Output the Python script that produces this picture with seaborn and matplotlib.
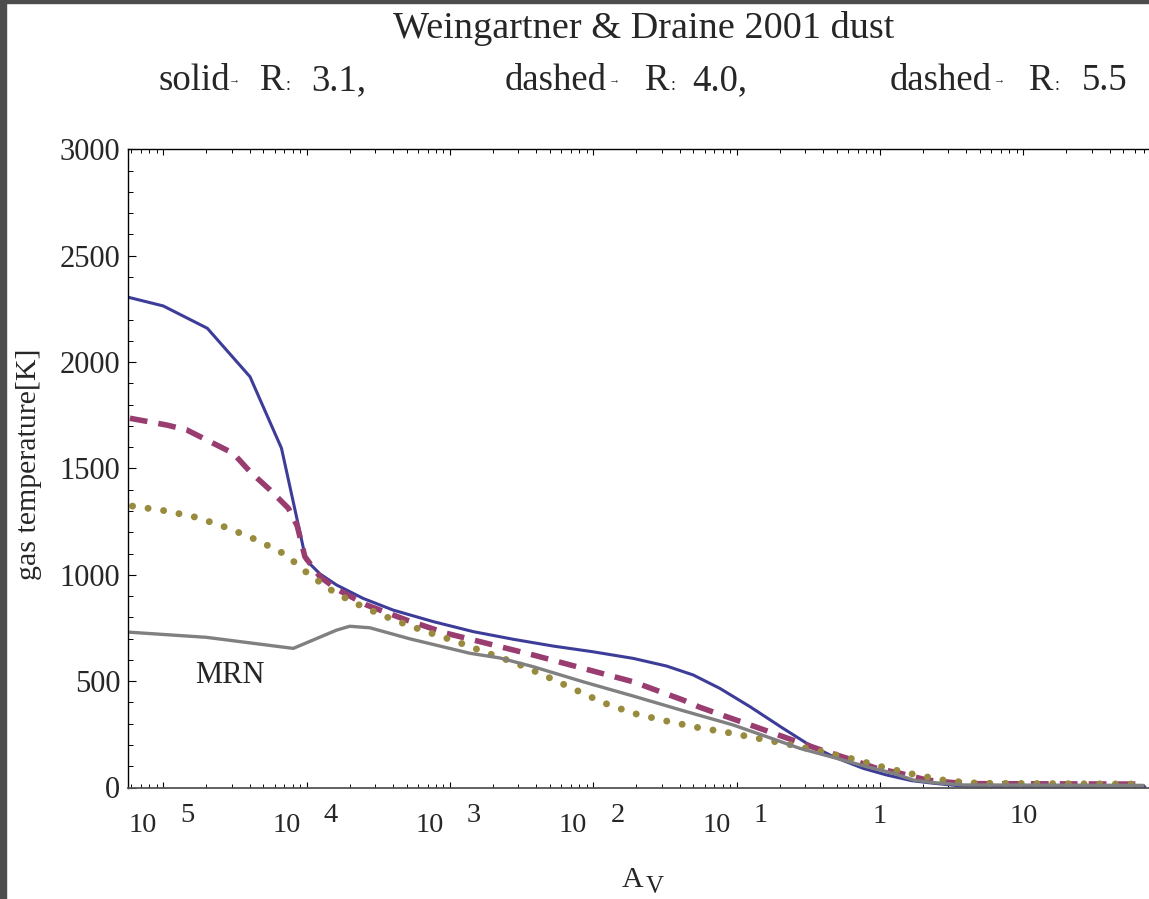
import numpy as np
import pandas as pd
import matplotlib
matplotlib.use("Agg")
import matplotlib.pyplot as plt
import matplotlib.transforms as mtransforms
from matplotlib.patches import Rectangle
from matplotlib.ticker import LogLocator, MultipleLocator, NullFormatter
import seaborn as sns

# ---------------- data ----------------
av_r31 = [5.69e-6, 1.0e-5, 2.03e-5, 4.03e-5, 6.68e-5, 9.9e-5, 1.24e-4, 1.62e-4, 2.48e-4,
          4.02e-4, 7.64e-4, 1.45e-3, 2.76e-3, 5.25e-3, 9.98e-3, 0.0190, 0.0325, 0.0498,
          0.0764, 0.124, 0.211, 0.308, 0.472, 0.764, 1.11, 1.67, 2.36, 3.73, 7.10, 70.6]
t_r31 = [2305, 2264, 2159, 1931, 1595, 1070, 1004, 952, 889,
         834, 780, 733, 697, 665, 638, 607, 571, 529,
         466, 380, 278, 208, 145, 90, 59, 32, 20, 7, 3, 3]

av_r40 = [5.85e-6, 1.06e-5, 1.46e-5, 2.12e-5, 3.08e-5, 4.03e-5, 5.56e-5, 7.46e-5, 8.6e-5,
          9.73e-5, 1.24e-4, 1.62e-4, 2.62e-4, 4.99e-4, 9.46e-4, 1.80e-3, 3.81e-3, 8.50e-3,
          0.019, 0.0424, 0.0555, 0.0851, 0.1306, 0.190, 0.276, 0.402, 0.618, 0.948, 1.38,
          2.12, 3.25, 4.73, 68.4]
t_r40 = [1736, 1704, 1681, 1626, 1571, 1485, 1399, 1313, 1230,
         1085, 991, 933, 858, 787, 725, 678, 623, 560,
         497, 411, 377, 333, 289, 250, 211, 173, 133, 90, 67,
         35, 23, 18, 16]

av_r55 = [6.1e-6, 1.03e-5, 1.71e-5, 2.77e-5, 4.48e-5, 7.10e-5, 1.05e-4, 1.60e-4, 2.55e-4,
          4.09e-4, 6.62e-4, 1.08e-3, 1.76e-3, 2.84e-3, 4.59e-3, 7.36e-3, 0.0117, 0.0190,
          0.0316, 0.0526, 0.0873, 0.146, 0.242, 0.398, 0.659, 1.09, 1.80, 2.97, 4.93, 68.4]
t_r55 = [1323, 1301, 1270, 1222, 1164, 1096, 999, 913, 845,
         787, 736, 689, 636, 587, 526, 462, 399, 349,
         314, 283, 258, 229, 200, 168, 133, 93, 59, 31, 20, 16]

av_mrn = [5.85e-6, 2.0e-5, 8.07e-5, 1.62e-4, 2.0e-4, 2.76e-4, 5.25e-4, 1.38e-3, 2.23e-3,
          3.81e-3, 8.5e-3, 0.019, 0.0424, 0.0946, 0.162, 0.276, 0.526, 0.807, 1.24,
          1.71, 2.36, 3.81, 68.4]
t_mrn = [730, 706, 654, 740, 758, 751, 699, 631, 609,
         568, 497, 430, 361, 294, 239, 184, 133, 98, 67,
         35, 23, 12, 10]

title_line1 = "Weingartner & Draine 2001 dust"
x_exponents = [-5, -4, -3, -2, -1]
x_plain_ticks = [1, 10]
x_plain_labels = ["1", "10"]

# ---------------- styling ----------------
sns.set_style("ticks")
plt.rcParams["font.family"] = ["Liberation Serif", "DejaVu Sans"]

W, H = 1149, 899
fig = plt.figure(figsize=(W / 100, H / 100), dpi=100)
ax_left, ax_right = 128 / W, 1.0
ax_bot, ax_top = (H - 787.5) / H, (H - 149.4) / H
ax = fig.add_axes([ax_left, ax_bot, ax_right - ax_left, ax_top - ax_bot])

blue = "#3d3d99"
magenta = "#993d71"
olive = "#998b3d"
gray = "#808080"

sns.lineplot(x=av_r31, y=t_r31, ax=ax, color=blue, linewidth=2.2, sort=False, estimator=None)
sns.lineplot(x=av_r40, y=t_r40, ax=ax, color=magenta, linewidth=4.0,
             linestyle=(0, (3.2, 2.0)), sort=False, estimator=None)
sns.lineplot(x=av_r55, y=t_r55, ax=ax, color=olive, linewidth=5.0,
             linestyle=(0, (0.01, 2.25)), dash_capstyle="round", sort=False, estimator=None)
sns.lineplot(x=av_mrn, y=t_mrn, ax=ax, color=gray, linewidth=2.4, sort=False, estimator=None)

ax.set_xscale("log")
ax.set_xlim(10 ** -5.246, 10 ** ((W - 880) / 143.3))
ax.set_ylim(0, 3000)

ax.xaxis.set_major_locator(LogLocator(base=10, numticks=20))
ax.xaxis.set_minor_locator(LogLocator(base=10, subs=np.arange(2, 10), numticks=40))
ax.xaxis.set_major_formatter(NullFormatter())
ax.xaxis.set_minor_formatter(NullFormatter())
ax.yaxis.set_major_locator(MultipleLocator(500))
ax.yaxis.set_minor_locator(MultipleLocator(100))

ax.tick_params(axis="x", which="major", direction="in", length=4.6, width=0.8,
               top=True, bottom=True, color="black")
ax.tick_params(axis="x", which="minor", direction="in", length=2.9, width=0.7,
               top=True, bottom=True, color="black")
ax.tick_params(axis="y", which="major", direction="in", length=5.8, width=0.8,
               left=True, right=False, labelsize=22, pad=5.5, color="black")
ax.tick_params(axis="y", which="minor", direction="in", length=3.6, width=0.7,
               left=True, right=False, color="black")
for lbl in ax.get_yticklabels():
    lbl.set_family("Liberation Serif")

for side in ["left", "top"]:
    ax.spines[side].set_color("black")
    ax.spines[side].set_linewidth(1.0)
ax.spines["bottom"].set_color("#555555")
ax.spines["bottom"].set_linewidth(1.3)
ax.spines["right"].set_visible(False)
ax.set_xlabel("")
ax.set_ylabel("")

# x tick labels, rendered as "10" followed by a raised exponent digit
blend = mtransforms.blended_transform_factory(ax.transData, ax.transAxes)
for e in x_exponents:
    t1 = mtransforms.offset_copy(blend, fig=fig, x=-6, y=-44.5, units="dots")
    ax.text(10.0 ** e, 0, "10", transform=t1, ha="right", va="baseline", fontsize=20.5)
    t2 = mtransforms.offset_copy(blend, fig=fig, x=17, y=-35, units="dots")
    ax.text(10.0 ** e, 0, str(-e), transform=t2, ha="left", va="baseline", fontsize=20.5)
for v, s in zip(x_plain_ticks, x_plain_labels):
    t3 = mtransforms.offset_copy(blend, fig=fig, x=0, y=-35.5, units="dots")
    ax.text(v, 0, s, transform=t3, ha="center", va="baseline", fontsize=20.5)

# MRN label
ax.text(1.66e-5, 491, "MRN", ha="left", va="baseline", fontsize=22)

# axis labels
fig.text(29 / W, (H - 464) / H, "gas temperature[K]", rotation=90,
         ha="center", va="center", fontsize=21.5)
fig.text(622 / W, (H - 887) / H, "A", ha="left", va="baseline", fontsize=21.5)
fig.text(646 / W, (H - 893) / H, "V", ha="left", va="baseline", fontsize=18)

# title lines
fig.text(643.5 / W, (H - 38) / H, title_line1, ha="center", va="baseline", fontsize=27.5)
pieces = [
    (158, "solid", 26.5, 90), (229, "→", 8, 82), (260, "R", 26.5, 90), (286, ":", 13, 90),
    (311, "3.1,", 26.5, 90),
    (505, "dashed", 26.5, 90), (609, "→", 8, 82), (645, "R", 26.5, 90), (671, ":", 13, 90),
    (692, "4.0,", 26.5, 90),
    (890, "dashed", 26.5, 90), (994, "→", 8, 82), (1029, "R", 26.5, 90), (1055, ":", 13, 90),
    (1082, "5.5", 26.5, 90),
]
for px, s, fs, base in pieces:
    fig.text(px / W, (H - base) / H, s, ha="left", va="baseline", fontsize=fs,
             family=["Liberation Serif", "DejaVu Sans"])

# screenshot border strips
fig.patches.append(Rectangle((0, 0), 6 / W, 1, transform=fig.transFigure,
                             color="#4d4d4d", zorder=10))
fig.patches.append(Rectangle((0, 1 - 3 / H), 1, 3 / H, transform=fig.transFigure,
                             color="#4d4d4d", zorder=10))

fig.savefig("out.png", dpi=100)
